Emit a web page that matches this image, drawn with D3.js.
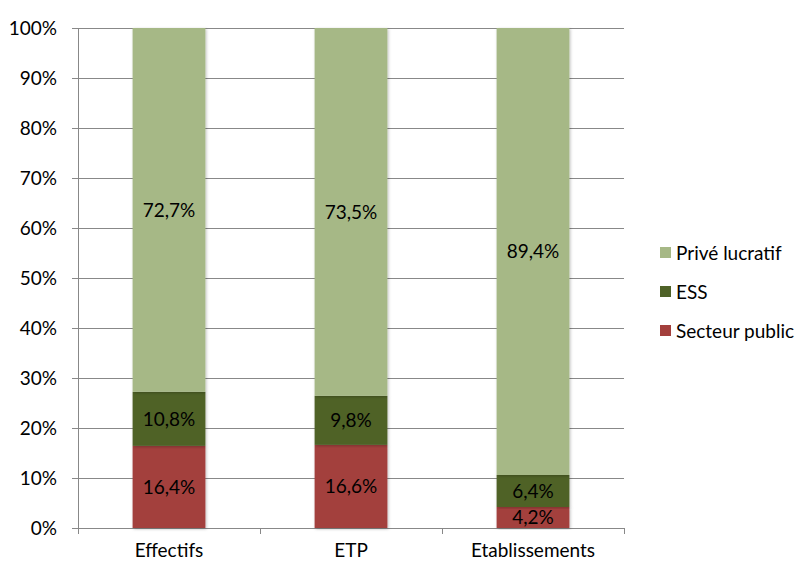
<!DOCTYPE html>
<html>

<head>
    <meta charset="utf-8">
    <title>Répartition par secteur</title>
    <style>
        body { margin: 0; background: #fff; }
        text { font-family: Lato, "Open Sans", sans-serif; fill: #000; font-size: 19px; }
    </style>
</head>

<body>
    <script src='https://d3js.org/d3.v7.min.js'></script>
    <script>
    // categories and series (values in %)
    var categories = ["Effectifs", "ETP", "Etablissements"];
    var seriesNames = ["Secteur public", "ESS", "Privé lucratif"];
    var secteurPublic = [16.4, 16.6, 4.2];
    var ess = [10.8, 9.8, 6.4];
    var priveLucratif = [72.7, 73.5, 89.4];
    var yTicks = [0, 10, 20, 30, 40, 50, 60, 70, 80, 90, 100];
    var colors = { "Secteur public": "#A33F3C", "ESS": "#4F6228", "Privé lucratif": "#A6B886" };

    const width = 801;
    const height = 563;
    const margin = { top: 28, right: 177, bottom: 35, left: 78 };

    // build rows, normalized to 100% like an Excel 100% stacked chart
    var rows = categories.map(function(c, i) {
        var total = secteurPublic[i] + ess[i] + priveLucratif[i];
        return {
            cat: c,
            "Secteur public": secteurPublic[i] / total * 100,
            "ESS": ess[i] / total * 100,
            "Privé lucratif": priveLucratif[i] / total * 100,
            raw: { "Secteur public": secteurPublic[i], "ESS": ess[i], "Privé lucratif": priveLucratif[i] }
        };
    });

    var stacked = d3.stack().keys(seriesNames)(rows);

    var x = d3.scaleBand()
        .domain(categories)
        .range([margin.left, width - margin.right])
        .padding(0);

    var y = d3.scaleLinear()
        .domain([0, 100])
        .range([height - margin.bottom, margin.top]);

    var svg = d3.select("body")
        .append("svg")
        .attr("width", width)
        .attr("height", height);

    var defs = svg.append("defs");
    defs.append("filter")
        .attr("id", "shadow")
        .attr("x", "-20%").attr("y", "-5%").attr("width", "140%").attr("height", "110%")
        .append("feDropShadow")
        .attr("dx", 1).attr("dy", 1).attr("stdDeviation", 1.5)
        .attr("flood-color", "#000").attr("flood-opacity", 0.25);

    // gridlines
    svg.append("g")
        .selectAll("line")
        .data(yTicks)
        .enter()
        .append("line")
        .attr("x1", margin.left - 6)
        .attr("x2", width - margin.right)
        .attr("y1", function(d) { return Math.round(y(d)) + 0.5; })
        .attr("y2", function(d) { return Math.round(y(d)) + 0.5; })
        .attr("stroke", "#888")
        .attr("stroke-width", 1);

    // y axis line
    svg.append("line")
        .attr("x1", margin.left + 0.5).attr("x2", margin.left + 0.5)
        .attr("y1", y(100)).attr("y2", y(0))
        .attr("stroke", "#888");

    // y tick labels
    svg.append("g")
        .selectAll("text")
        .data(yTicks)
        .enter()
        .append("text")
        .attr("x", margin.left - 21)
        .attr("y", function(d) { return y(d); })
        .attr("dy", "0.35em")
        .style("text-anchor", "end")
        .text(function(d) { return d + "%"; });

    // x axis ticks at category boundaries
    var bounds = categories.map(function(c) { return x(c); }).concat([width - margin.right]);
    svg.append("g")
        .selectAll("line")
        .data(bounds)
        .enter()
        .append("line")
        .attr("x1", function(d) { return Math.round(d) + 0.5; })
        .attr("x2", function(d) { return Math.round(d) + 0.5; })
        .attr("y1", y(0))
        .attr("y2", y(0) + 6)
        .attr("stroke", "#888");

    // x labels (kept just inside the bottom edge)
    svg.append("g")
        .selectAll("text")
        .data(categories)
        .enter()
        .append("text")
        .attr("x", function(d) { return x(d) + x.bandwidth() / 2; })
        .attr("y", height - 6)
        .style("text-anchor", "middle")
        .text(function(d) { return d; });

    // bars
    var barW = x.bandwidth() * 0.4;
    var layers = svg.append("g")
        .selectAll("g")
        .data(stacked)
        .enter()
        .append("g")
        .attr("fill", function(d) { return colors[d.key]; });

    layers.selectAll("rect")
        .data(function(d) { return d; })
        .enter()
        .append("rect")
        .attr("x", function(d) { return x(d.data.cat) + (x.bandwidth() - barW) / 2; })
        .attr("y", function(d) { return y(d[1]); })
        .attr("width", barW)
        .attr("height", function(d) { return y(d[0]) - y(d[1]); })
        .attr("filter", "url(#shadow)");

    // value labels
    stacked.forEach(function(s) {
        svg.append("g")
            .selectAll("text")
            .data(s)
            .enter()
            .append("text")
            .attr("x", function(d) { return x(d.data.cat) + x.bandwidth() / 2; })
            .attr("y", function(d) { return (y(d[0]) + y(d[1])) / 2; })
            .attr("dy", "0.35em")
            .style("text-anchor", "middle")
            .text(function(d) { return d.data.raw[s.key].toFixed(1).replace(".", ",") + "%"; });
    });

    // legend
    var legendItems = seriesNames.slice().reverse();
    var legend = svg.append("g")
        .selectAll("g")
        .data(legendItems)
        .enter()
        .append("g")
        .attr("transform", function(d, i) { return "translate(660," + (253 + i * 39) + ")"; });

    legend.append("rect")
        .attr("x", 0).attr("y", -6)
        .attr("width", 11).attr("height", 11)
        .attr("fill", function(d) { return colors[d]; });

    legend.append("text")
        .attr("x", 16)
        .attr("y", 0)
        .attr("dy", "0.35em")
        .text(function(d) { return d; });
    </script>
</body>

</html>
